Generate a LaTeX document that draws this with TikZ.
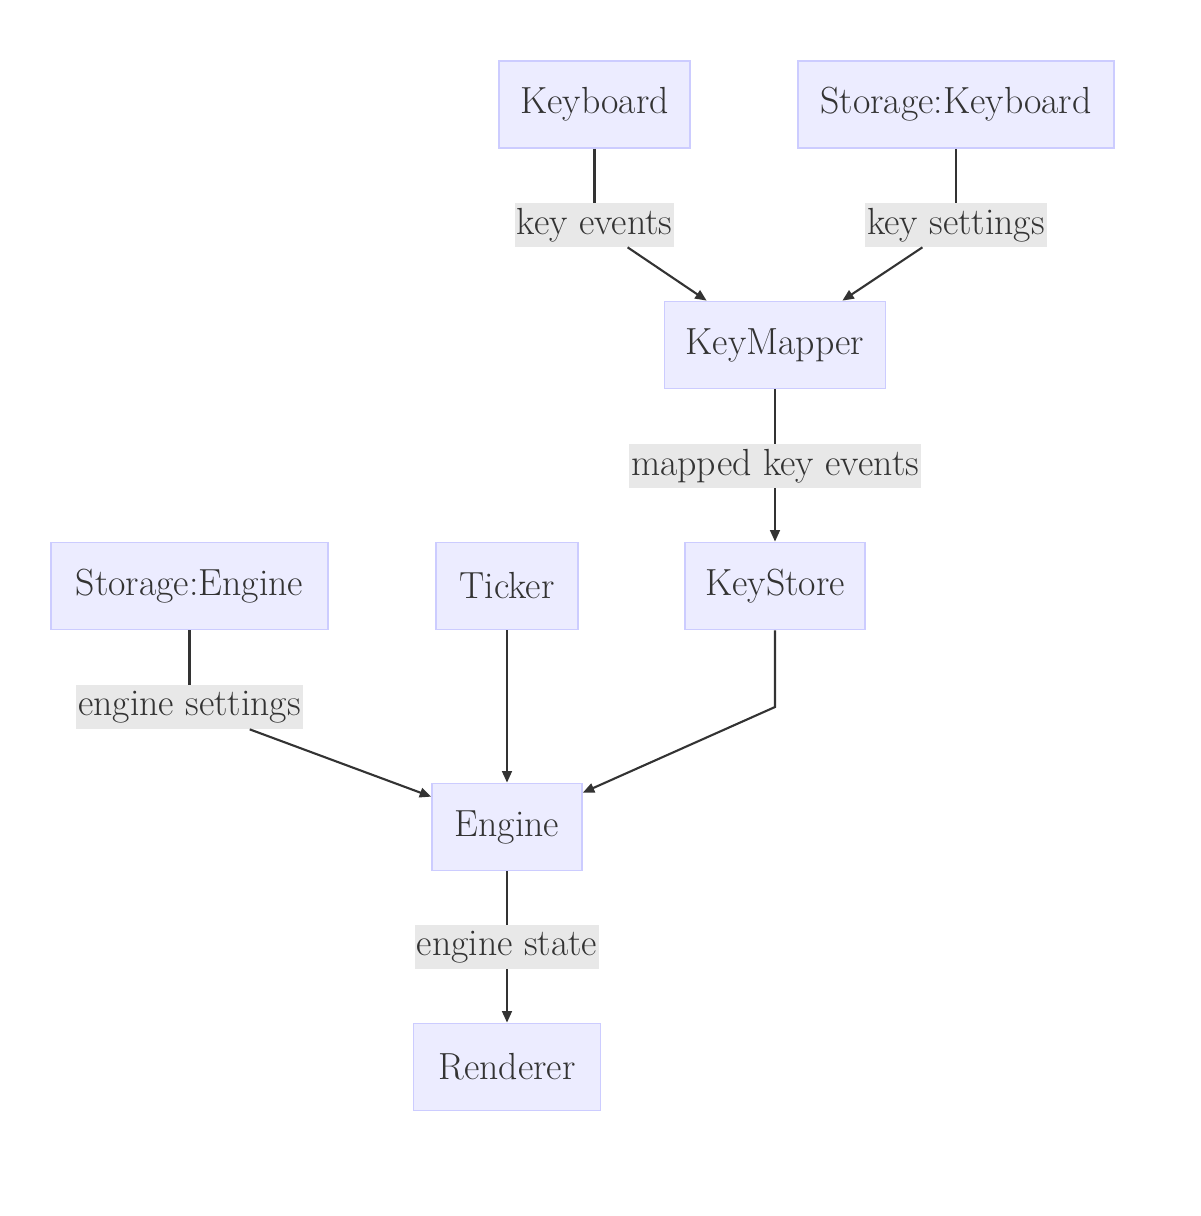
\documentclass[tikz,border=0pt]{standalone}
\usepackage{tikz}
\usetikzlibrary{arrows.meta}
\usepackage{xcolor}

\definecolor{boxfill}{HTML}{ECECFF}
\definecolor{boxline}{HTML}{CCCCFF}
\definecolor{lblfill}{HTML}{E8E8E8}
\definecolor{ink}{HTML}{333333}

\begin{document}
\begin{tikzpicture}[x=0.02cm,y=-0.02cm,
    box/.style={draw=boxline,line width=1pt,fill=boxfill,text=ink,
      minimum height=1.74cm,inner sep=0pt,font=\fontsize{21.5}{24}\selectfont},
    lbl/.style={fill=lblfill,text=ink,minimum height=0.88cm,inner sep=1pt,
      font=\fontsize{21.5}{24}\selectfont},
    flow/.style={draw=ink,line width=1.2pt},
    arr/.style={flow,-{Triangle[length=6.5pt,width=5.5pt]}}]
    \useasboundingbox (0,0) rectangle (1200,1216);

    % Components
    \node[box,minimum width=3.82cm] (kb) at (594.5,104.5) {Keyboard};
    \node[box,minimum width=6.32cm] (skb) at (956,104.5) {Storage:Keyboard};
    \node[box,minimum width=4.42cm] (km) at (775,345) {KeyMapper};
    \node[box,minimum width=5.54cm] (se) at (189.5,586) {Storage:Engine};
    \node[box,minimum width=2.84cm] (tk) at (507,586) {Ticker};
    \node[box,minimum width=3.60cm] (ks) at (775,586) {KeyStore};
    \node[box,minimum width=3.00cm] (eng) at (507,827) {Engine};
    \node[box,minimum width=3.74cm] (rnd) at (507,1067) {Renderer};

    % Edge labels
    \node[lbl] (lkev) at (594.5,225) {key events};
    \node[lbl] (lkset) at (956,225) {key settings};
    \node[lbl] (lmap) at (775,466) {mapped key events};
    \node[lbl] (leset) at (189.5,707) {engine settings};
    \node[lbl] (lstate) at (507,947) {engine state};
    \coordinate (bend) at (775,707);

    % Flows
    \draw[flow] (kb) -- (lkev);
    \draw[arr] (lkev) -- ([xshift=0.86cm]km.north west);
    \draw[flow] (skb) -- (lkset);
    \draw[arr] (lkset) -- ([xshift=-0.88cm]km.north east);
    \draw[flow] (km) -- (lmap);
    \draw[arr] (lmap) -- (ks);
    \draw[flow] (se) -- (leset);
    \draw[arr] (leset) -- ([yshift=-0.28cm]eng.north west);
    \draw[arr] (tk) -- (eng);
    \draw[arr] (ks.south) -- (bend) -- ([yshift=-0.2cm]eng.north east);
    \draw[flow] (eng) -- (lstate);
    \draw[arr] (lstate) -- (rnd);
\end{tikzpicture}
\end{document}
